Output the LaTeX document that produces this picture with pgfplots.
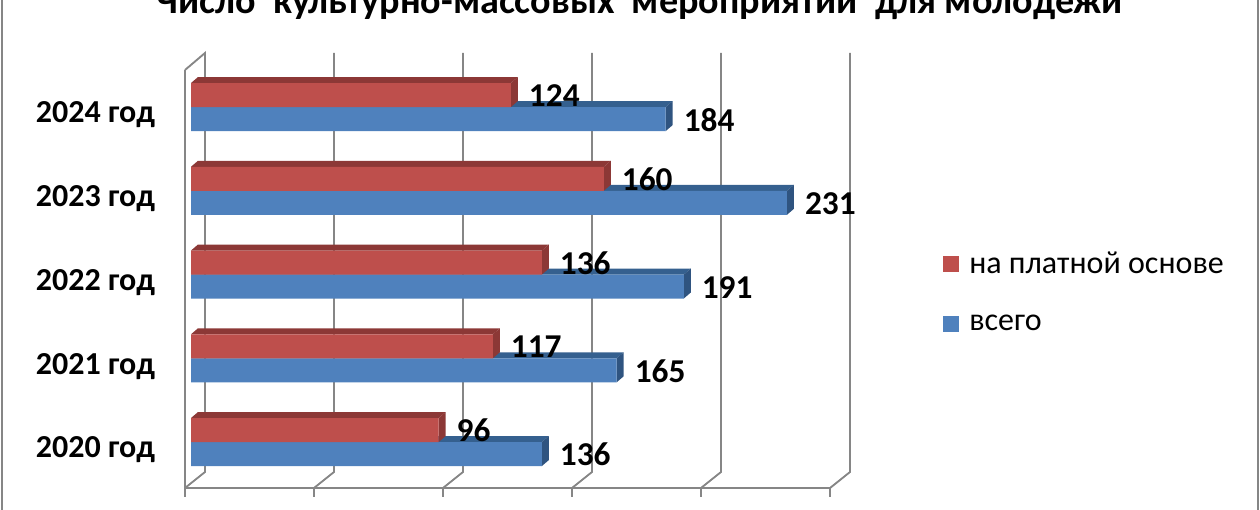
\documentclass[border=0pt]{standalone}
\usepackage{fontspec}
\setmainfont{Carlito}
\usepackage{pgfplots}
\pgfplotsset{compat=1.18}
\definecolor{redbar}{HTML}{BE4F4C}
\definecolor{redtop}{HTML}{8C3836}
\definecolor{blubar}{HTML}{4F81BD}
\definecolor{blutop}{HTML}{35608F}
\definecolor{bluside}{HTML}{2F5480}
\definecolor{axgray}{HTML}{868686}
% depth faces of a bar: value, top edge, colour of top, colour of end
\newcommand{\depth}[4]{%
  \pgfmathsetmacro{\vv}{#1+2.71}\pgfmathsetmacro{\tt}{#2+0.0716}%
  \pgfmathsetmacro{\bb}{#2-0.2866}\pgfmathsetmacro{\bt}{#2-0.215}%
  \addplot[fill=#3,draw=none,forget plot] coordinates {(0,#2) (#1,#2) (\vv,\tt) (2.71,\tt)} --cycle;
  \addplot[fill=#4,draw=none,forget plot] coordinates {(#1,#2) (\vv,\tt) (\vv,\bt) (#1,\bb)} --cycle;
}
\begin{document}
\begin{tikzpicture}
\path[use as bounding box,clip] (0,0) rectangle (945pt,382.5pt);
\begin{axis}[
  at={(138.75pt,16.5pt)}, anchor=south west,
  scale only axis, width=483.75pt, height=313.5pt,
  clip=false,
  xmin=-2.33, xmax=247.67, ymin=-0.549, ymax=4.442,
  axis x line*=bottom, axis y line*=left,
  axis line style={axgray,line width=1.6pt},
  xtick={-2.33,47.67,97.67,147.67,197.67,247.67}, xticklabels={},
  x tick style={axgray,line width=1.4pt},
  tick align=outside, major tick length=6.5pt,
  ytick={0,1,2,3,4},
  yticklabels={2020 год,2021 год,2022 год,2023 год,2024 год},
  y tick style={draw=none},
  yticklabel style={font=\fontsize{24}{24}\selectfont\bfseries,xshift=-12.5pt,yshift=-6pt},
  title={Число\ \ культурно-массовых\ \ мероприятий\ \ для молодежи},
  title style={at={(axis description cs:0.705,1.115)},anchor=base,font=\fontsize{28.6}{28.6}\selectfont\bfseries},
  legend style={at={(axis description cs:1.168,0.578)},anchor=north west,draw=none,fill=none,
    font=\fontsize{24}{24}\selectfont,row sep=25.5pt},
  legend cell align=left, reverse legend,
  legend image code/.code={\fill[#1,draw=none] (0pt,-6pt) rectangle (12pt,6pt); \path (18pt,0pt);},
  /pgf/number format/assume math mode=true,
  every node near coord/.append style={font=\fontsize{25}{25}\selectfont\bfseries,xshift=10pt,black},
]
% back wall grid
\addplot[axgray,line width=1.4pt,forget plot,unbounded coords=jump] coordinates {
  (-2.33,4.442) (5.42,4.645) (5.42,-0.358) (-2.33,-0.549) (nan,nan)
  (55.42,4.645) (55.42,-0.358) (47.67,-0.549) (nan,nan)
  (105.42,4.645) (105.42,-0.358) (97.67,-0.549) (nan,nan)
  (155.42,4.645) (155.42,-0.358) (147.67,-0.549) (nan,nan)
  (205.42,4.645) (205.42,-0.358) (197.67,-0.549) (nan,nan)
  (255.42,4.645) (255.42,-0.358) (247.67,-0.549)
};
% blue series
\depth{136}{0}{blutop}{bluside}
\depth{165}{1}{blutop}{bluside}
\depth{191}{2}{blutop}{bluside}
\depth{231}{3}{blutop}{bluside}
\depth{184}{4}{blutop}{bluside}
\addplot[xbar,bar width=18pt,bar shift=-9pt,fill=blubar,draw=none,
  point meta=x,nodes near coords,nodes near coords align={horizontal},
  every node near coord/.append style={yshift=-9.5pt}] coordinates {
  (136,0) (165,1) (191,2) (231,3) (184,4)
};
\addlegendentry{всего}
% red series
\depth{96}{0.2866}{redtop}{redtop}
\depth{117}{1.2866}{redtop}{redtop}
\depth{136}{2.2866}{redtop}{redtop}
\depth{160}{3.2866}{redtop}{redtop}
\depth{124}{4.2866}{redtop}{redtop}
\addplot[xbar,bar width=18pt,bar shift=9pt,fill=redbar,draw=none,
  point meta=x,nodes near coords,nodes near coords align={horizontal},
  every node near coord/.append style={yshift=8.5pt}] coordinates {
  (96,0) (117,1) (136,2) (160,3) (124,4)
};
\addlegendentry{на платной основе}
\end{axis}
% chart frame, cut by the image edge
\draw[axgray,line width=2.2pt] (1.5pt,0) -- (1.5pt,382.5pt);
\draw[axgray,line width=2.2pt] (943.5pt,0) -- (943.5pt,382.5pt);
\end{tikzpicture}
\end{document}
